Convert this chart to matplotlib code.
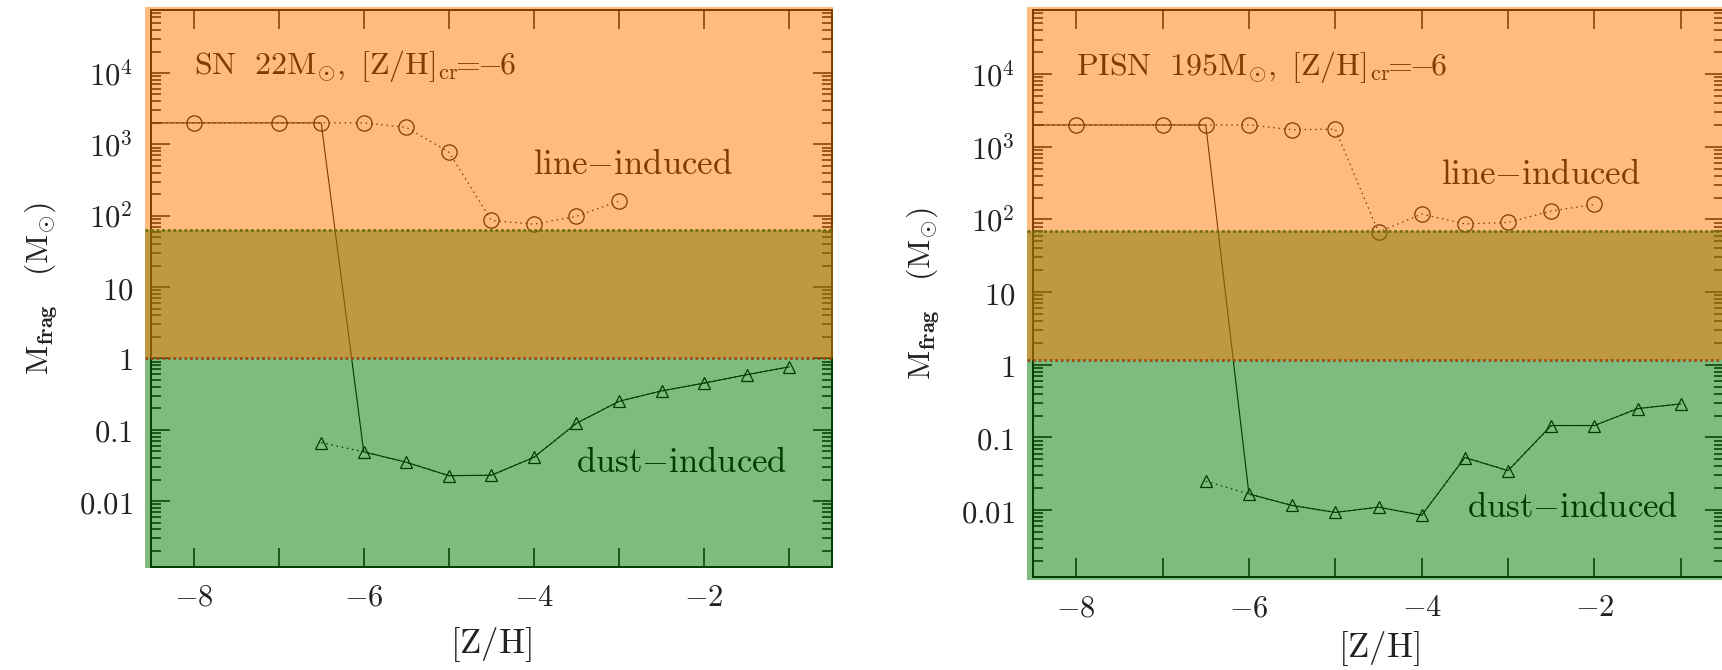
import matplotlib
matplotlib.use('Agg')
import matplotlib.pyplot as plt
from matplotlib.patches import Rectangle
from matplotlib.transforms import blended_transform_factory
from matplotlib.ticker import LogLocator, NullFormatter

plt.rcParams['mathtext.fontset'] = 'cm'
plt.rcParams['font.family'] = ['DejaVu Serif']

# metallicity grid
z_line = [-8, -7, -6.5, -6, -5.5, -5, -4.5, -4, -3.5, -3]
z_line_pisn = [-8, -7, -6.5, -6, -5.5, -5, -4.5, -4, -3.5, -3, -2.5, -2]
z_dust = [-6.5, -6, -5.5, -5, -4.5, -4, -3.5, -3, -2.5, -2, -1.5, -1]
z_floor = -9  # metal-free end, off the left edge of the plot

# SN 22 Msun
sn_line = [2000, 2000, 2000, 2000, 1730, 780, 86, 76, 98, 160]
sn_dust = [0.066, 0.049, 0.035, 0.0227, 0.023, 0.041, 0.123, 0.25, 0.35, 0.45, 0.59, 0.76]
sn_bands = (1.0, 63.0)   # (bottom of line-induced, top of dust-induced)

# PISN 195 Msun
pisn_line = [2000, 2000, 2000, 2000, 1720, 1750, 67, 119, 87, 91, 131, 161]
pisn_dust = [0.025, 0.0167, 0.0116, 0.0093, 0.011, 0.0085, 0.053, 0.035, 0.146, 0.146, 0.25, 0.29]
pisn_bands = (1.17, 70.0)

z_crit = -6.5  # last point on the line-cooling branch

x_ticks = [-8, -7, -6, -5, -4, -3, -2, -1]
x_labels = [r'$-8$', '', r'$-6$', '', r'$-4$', '', r'$-2$', '']
y_ticks = [1e-2, 1e-1, 1, 10, 1e2, 1e3, 1e4]
y_labels = [r'$0.01$', r'$0.1$', r'$1$', r'$10$', r'$10^2$', r'$10^3$', r'$10^4$']

YMIN, YMAX = 10 ** -2.92, 10 ** 4.89
ORANGE = (1.0, 120 / 255, 0.0)
GREEN = (0.0, 120 / 255, 0.0)


def draw_panel(ax, title, zl, mline, mdust, bands, txt_line, txt_dust, bot_pad, xlab_y):
    ax.set_yscale('log')
    ax.set_xlim(-8.5, -0.5)
    ax.set_ylim(YMIN, YMAX)

    # effective fragmentation mass: line branch down to z_crit, then dust
    n = zl.index(z_crit) + 1
    fz = [z_floor] + zl[:n] + z_dust[1:]
    fm = [mline[0]] + mline[:n] + mdust[1:]
    ax.plot(fz, fm, '-', color='k', lw=0.8, zorder=3)

    ax.plot([z_floor] + zl, [mline[0]] + mline, color='k', lw=0.9,
            ls=(0, (1.2, 3)), marker='o', ms=11, mfc='none', mec='k', mew=0.9, zorder=3)
    ax.plot(z_dust, mdust, color='k', lw=0.9, ls=(0, (1.2, 3)),
            marker='^', ms=9, mfc='none', mec='k', mew=0.9, zorder=3)

    ax.text(-8.0, 10 ** 4.1, title, fontsize=23, ha='left', va='center', color='k', zorder=3)
    ax.text(txt_line[0], txt_line[1], r'$\mathrm{line{-}induced}$', fontsize=25,
            ha='center', va='center', color='k', zorder=3)
    ax.text(txt_dust[0], txt_dust[1], r'$\mathrm{dust{-}induced}$', fontsize=25,
            ha='center', va='center', color='k', zorder=3)

    # ticks
    ax.set_xticks(x_ticks, labels=x_labels)
    ax.set_yticks(y_ticks, labels=y_labels)
    ax.yaxis.set_minor_locator(LogLocator(base=10, subs=range(2, 10), numticks=20))
    ax.yaxis.set_minor_formatter(NullFormatter())
    ax.tick_params(which='both', direction='in', top=True, right=True, width=1.1,
                   color='k', labelsize=22, labelcolor='#222222')
    ax.tick_params(which='major', length=14)
    ax.tick_params(which='minor', length=7)
    ax.tick_params(axis='x', pad=11)
    ax.tick_params(axis='y', pad=13)
    for s in ax.spines.values():
        s.set_linewidth(1.4)
        s.set_color('k')

    ax.set_xlabel(r'$[\mathrm{Z/H}]$', fontsize=25, color='#222222')
    ax.xaxis.set_label_coords(0.5, xlab_y)
    ax.set_ylabel(r'$\mathrm{M_{\mathbf{frag}}}\ \ \ (\mathrm{M_{\odot}})$', fontsize=23,
                  labelpad=14, color='#222222')

    # translucent regime overlays
    tr = blended_transform_factory(ax.transAxes, ax.transData)
    lo, hi = bands
    ax.add_patch(Rectangle((-0.009, 10 ** (-2.92 - bot_pad)), 1.011,
                           hi - 10 ** (-2.92 - bot_pad), transform=tr,
                           facecolor=GREEN, alpha=0.5, lw=0, clip_on=False, zorder=10))
    ax.add_patch(Rectangle((-0.009, lo), 1.011, 10 ** 4.925 - lo, transform=tr,
                           facecolor=ORANGE, alpha=0.5, lw=0, clip_on=False, zorder=11))
    ax.plot([-0.009, 1.002], [hi, hi], transform=tr, color='#6E7010', lw=2.0,
            ls=(0, (1, 1)), clip_on=False, zorder=12)
    ax.plot([-0.009, 1.002], [lo, lo], transform=tr, color='#A24A12', lw=2.0,
            ls=(0, (1, 1)), clip_on=False, zorder=12)


fig = plt.figure(figsize=(17.22, 6.70), dpi=100)
ax1 = fig.add_axes([151 / 1722, 1 - 566.7 / 670, 680.7 / 1722, 557.2 / 670])
ax2 = fig.add_axes([1033 / 1722, 1 - 577 / 670, 691 / 1722, 567.5 / 670])

draw_panel(ax1, r'$\mathrm{SN\ \ 22M_{\odot},\ [Z/H]_{cr}\!\!=\!\!\!-\!\!6}$',
           z_line, sn_line, sn_dust, sn_bands,
           (-2.84, 10 ** 2.72), (-2.26, 10 ** -1.45), 0.015, -0.104)
draw_panel(ax2, r'$\mathrm{PISN\ \ 195M_{\odot},\ [Z/H]_{cr}\!\!=\!\!\!-\!\!6}$',
           z_line_pisn, pisn_line, pisn_dust, pisn_bands,
           (-2.62, 10 ** 2.62), (-2.25, 10 ** -1.95), 0.04, -0.092)

fig.savefig('out.png', dpi=100)
